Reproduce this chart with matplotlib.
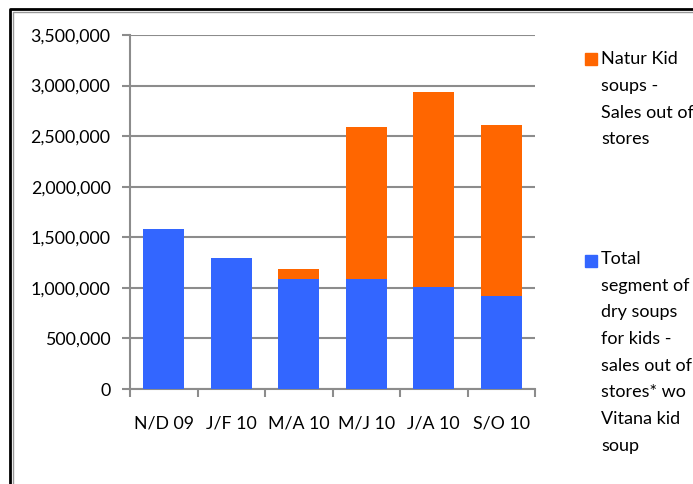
import matplotlib.pyplot as plt
from matplotlib.patches import Rectangle
from matplotlib.lines import Line2D
import numpy as np

plt.rcParams['font.family'] = ['Lato', 'DejaVu Sans']

periods = ['N/D 09', 'J/F 10', 'M/A 10', 'M/J 10', 'J/A 10', 'S/O 10']
segment_wo_vitana = [1580000, 1300000, 1085000, 1085000, 1005000, 920000]
natur_kid = [0, 0, 100000, 1505000, 1930000, 1690000]

label_natur = 'Natur Kid\nsoups -\nSales out of\nstores'
label_total = 'Total\nsegment of\ndry soups\nfor kids -\nsales out of\nstores* wo\nVitana kid\nsoup'

blue = '#3366FF'
orange = '#FF6600'
W, H = 693, 484

fig = plt.figure(figsize=(6.93, 4.84), dpi=100)
ax = fig.add_axes([130 / W, 1 - 389 / H, 405 / W, 354 / H])

x = np.arange(len(periods))
ax.bar(x, segment_wo_vitana, width=0.61, color=blue, zorder=3)
ax.bar(x, natur_kid, width=0.61, bottom=segment_wo_vitana, color=orange, zorder=3)

ax.set_xlim(-0.5, len(periods) - 0.5)
ax.set_ylim(0, 3500000)
ax.set_yticks(np.arange(0, 3500001, 500000))
ax.set_yticklabels([f'{int(v):,}' for v in np.arange(0, 3500001, 500000)], fontsize=12.8)
ax.yaxis.grid(True, color='#8c8c8c', linewidth=1.5, zorder=0)
ax.set_axisbelow(True)

# boundaries get the tick marks, centers get the labels
ax.set_xticks(np.arange(-0.5, len(periods)), minor=False)
ax.set_xticklabels([])
ax.set_xticks(x, minor=True)
ax.set_xticklabels(periods, minor=True, fontsize=12.8)
ax.tick_params(axis='x', which='major', length=6, color='#8c8c8c', width=1.5)
ax.tick_params(axis='x', which='minor', length=0, pad=19)
ax.tick_params(axis='y', length=6, color='#8c8c8c', width=1.5, pad=8)

for s in ['top', 'right']:
    ax.spines[s].set_visible(False)
for s in ['left', 'bottom']:
    ax.spines[s].set_color('#8c8c8c')
    ax.spines[s].set_linewidth(1.5)

# legend drawn by hand
fig.patches.append(Rectangle((585 / W, 1 - 65 / H), 12 / W, 12 / H,
                             transform=fig.transFigure, color=orange))
fig.text(601 / W, 1 - 51 / H, label_natur, fontsize=13, va='top',
         linespacing=1.83)
fig.patches.append(Rectangle((585 / W, 1 - 267 / H), 12 / W, 12 / H,
                             transform=fig.transFigure, color=blue))
fig.text(601 / W, 1 - 251 / H, label_total, fontsize=13, va='top',
         linespacing=1.82)

# outer frame
fig.add_artist(Line2D([10 / W, 10 / W, 1], [0, 1 - 8.5 / H, 1 - 8.5 / H],
                      transform=fig.transFigure, color='black', linewidth=2))
fig.add_artist(Line2D([13 / W, 13 / W, 1], [0, 1 - 11.5 / H, 1 - 11.5 / H],
                      transform=fig.transFigure, color='#999999', linewidth=1))

fig.savefig('out.png', dpi=100)
